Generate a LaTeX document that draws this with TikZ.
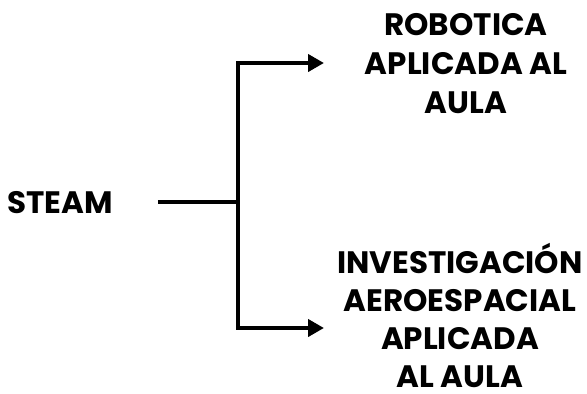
\documentclass[tikz,border=0pt]{standalone}
\usepackage{fontspec}
\setmainfont{Poppins}
\usetikzlibrary{arrows.meta}
\begin{document}
\begin{tikzpicture}[x=1pt,y=-1pt,
  lbl/.style={inner sep=0pt,align=center,font=\bfseries\fontsize{31}{38}\selectfont},
  conn/.style={line width=4.8pt,line join=miter,draw=black},
  arr/.style={conn,-{Triangle[length=16pt,width=17pt]}}]
\useasboundingbox[fill=white] (0,0) rectangle (587,394);
\node[lbl,anchor=base] (steam) at (60,213) {STEAM};
\node[lbl,anchor=base,font=\bfseries\fontsize{31}{39}\selectfont] (rob) at (466,113) {ROBOTICA\\APLICADA AL\\AULA};
\node[lbl,anchor=base] (inv) at (460,387) {INVESTIGACIÓN\\AEROESPACIAL\\APLICADA\\AL AULA};
\coordinate (j) at (238,202);
\coordinate (ta) at (324,63);
\coordinate (tb) at (324,328);
\draw[conn] ([xshift=45pt]steam.east |- j) -- (j);
\draw[arr] (j) |- (ta);
\draw[arr] (j) |- (tb);
\end{tikzpicture}
\end{document}
